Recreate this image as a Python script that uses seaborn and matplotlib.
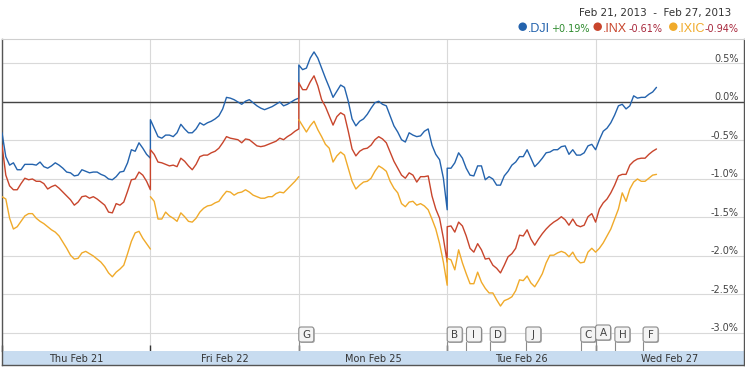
import numpy as np
import pandas as pd
import seaborn as sns
import matplotlib.pyplot as plt
from matplotlib import transforms
from matplotlib.patches import FancyBboxPatch, Ellipse

# % change, 10-minute bars 9:30-16:00 per session (Wed cut at 12:10)
days = ["Thu Feb 21", "Fri Feb 22", "Mon Feb 25", "Tue Feb 26", "Wed Feb 27"]

dji_thu = [-0.40, -0.71, -0.82, -0.79, -0.88, -0.88, -0.81, -0.81, -0.81, -0.82, -0.78, -0.84, -0.86, -0.83,
           -0.79, -0.82, -0.86, -0.91, -0.92, -0.96, -0.95, -0.88, -0.90, -0.92, -0.91, -0.91, -0.94, -0.96,
           -1.00, -1.01, -0.97, -0.91, -0.90, -0.79, -0.62, -0.64, -0.53, -0.60, -0.68, -0.73]
dji_fri = [-0.23, -0.34, -0.45, -0.47, -0.43, -0.43, -0.45, -0.40, -0.29, -0.35, -0.40, -0.40, -0.35, -0.27,
           -0.30, -0.27, -0.25, -0.22, -0.18, -0.09, 0.06, 0.05, 0.03, 0.00, -0.03, 0.01, 0.03, -0.01,
           -0.05, -0.08, -0.10, -0.08, -0.06, -0.03, 0.00, -0.05, -0.03, 0.00, 0.03, 0.05]
dji_mon = [0.48, 0.42, 0.44, 0.57, 0.65, 0.57, 0.44, 0.31, 0.19, 0.06, 0.14, 0.22, 0.19, 0.01,
           -0.22, -0.31, -0.25, -0.22, -0.16, -0.08, -0.01, 0.01, -0.03, -0.05, -0.18, -0.31, -0.39, -0.49,
           -0.52, -0.40, -0.43, -0.45, -0.44, -0.38, -0.35, -0.56, -0.68, -0.75, -0.99, -1.40]
dji_tue = [-0.86, -0.86, -0.79, -0.66, -0.73, -0.86, -0.95, -0.96, -0.83, -0.83, -1.01, -0.97, -1.00, -1.08,
           -1.08, -0.96, -0.90, -0.82, -0.78, -0.71, -0.71, -0.62, -0.73, -0.84, -0.79, -0.73, -0.66, -0.65,
           -0.62, -0.62, -0.58, -0.57, -0.68, -0.62, -0.69, -0.69, -0.66, -0.57, -0.55, -0.62]
dji_wed = [-0.62, -0.49, -0.38, -0.34, -0.27, -0.17, -0.05, -0.03, -0.09, -0.05, 0.08, 0.05, 0.06, 0.06,
           0.10, 0.13, 0.19]

inx_thu = [-0.56, -0.95, -1.09, -1.14, -1.14, -1.06, -0.99, -1.01, -1.00, -1.03, -1.03, -1.06, -1.13, -1.10,
           -1.08, -1.12, -1.17, -1.22, -1.27, -1.34, -1.30, -1.23, -1.22, -1.25, -1.23, -1.26, -1.30, -1.34,
           -1.43, -1.44, -1.32, -1.34, -1.30, -1.16, -1.01, -1.00, -0.91, -0.95, -1.03, -1.14]
inx_fri = [-0.62, -0.68, -0.78, -0.79, -0.81, -0.83, -0.82, -0.84, -0.73, -0.77, -0.83, -0.88, -0.81, -0.71,
           -0.69, -0.69, -0.66, -0.64, -0.60, -0.53, -0.45, -0.47, -0.48, -0.49, -0.53, -0.48, -0.49, -0.53,
           -0.57, -0.58, -0.57, -0.55, -0.53, -0.51, -0.47, -0.49, -0.45, -0.42, -0.38, -0.35]
inx_mon = [0.25, 0.16, 0.16, 0.26, 0.34, 0.21, 0.03, -0.06, -0.18, -0.30, -0.19, -0.14, -0.17, -0.38,
           -0.61, -0.70, -0.64, -0.61, -0.60, -0.56, -0.49, -0.45, -0.48, -0.53, -0.65, -0.77, -0.86, -0.95,
           -0.99, -0.92, -0.95, -1.04, -0.97, -0.97, -0.96, -1.22, -1.39, -1.51, -1.77, -2.08]
inx_tue = [-1.62, -1.61, -1.69, -1.56, -1.61, -1.74, -1.90, -1.95, -1.84, -1.92, -2.04, -2.03, -2.12, -2.16,
           -2.22, -2.12, -2.01, -1.97, -1.90, -1.73, -1.74, -1.66, -1.78, -1.86, -1.78, -1.71, -1.65, -1.60,
           -1.56, -1.53, -1.49, -1.53, -1.60, -1.52, -1.60, -1.62, -1.60, -1.49, -1.45, -1.56]
inx_wed = [-1.56, -1.39, -1.31, -1.26, -1.18, -1.08, -0.96, -0.94, -0.94, -0.82, -0.77, -0.74, -0.73, -0.73,
           -0.68, -0.64, -0.61]

ixic_thu = [-1.23, -1.26, -1.51, -1.65, -1.62, -1.55, -1.48, -1.45, -1.45, -1.51, -1.55, -1.58, -1.62, -1.66,
            -1.69, -1.74, -1.82, -1.90, -1.99, -2.04, -2.03, -1.96, -1.94, -1.97, -2.00, -2.04, -2.08, -2.14,
            -2.22, -2.27, -2.21, -2.17, -2.12, -1.97, -1.81, -1.70, -1.68, -1.77, -1.84, -1.91]
ixic_fri = [-1.23, -1.29, -1.52, -1.52, -1.43, -1.48, -1.51, -1.55, -1.44, -1.49, -1.55, -1.56, -1.51, -1.43,
            -1.38, -1.35, -1.34, -1.31, -1.29, -1.22, -1.16, -1.17, -1.21, -1.18, -1.17, -1.14, -1.17, -1.21,
            -1.23, -1.25, -1.25, -1.23, -1.23, -1.19, -1.17, -1.18, -1.13, -1.08, -1.03, -0.97]
ixic_mon = [-0.23, -0.31, -0.39, -0.31, -0.25, -0.36, -0.45, -0.55, -0.60, -0.78, -0.70, -0.65, -0.69, -0.86,
            -1.03, -1.13, -1.08, -1.04, -1.03, -0.99, -0.90, -0.83, -0.86, -0.90, -1.03, -1.12, -1.18, -1.32,
            -1.36, -1.30, -1.29, -1.34, -1.32, -1.35, -1.40, -1.52, -1.65, -1.84, -2.08, -2.38]
ixic_tue = [-2.03, -2.05, -2.18, -1.92, -2.09, -2.23, -2.36, -2.36, -2.21, -2.34, -2.42, -2.48, -2.48, -2.57,
            -2.65, -2.58, -2.56, -2.53, -2.45, -2.31, -2.32, -2.26, -2.35, -2.40, -2.32, -2.23, -2.09, -1.99,
            -1.99, -1.96, -1.94, -1.96, -2.01, -1.95, -2.04, -2.09, -2.08, -1.95, -1.90, -1.95]
ixic_wed = [-1.95, -1.90, -1.83, -1.74, -1.65, -1.52, -1.39, -1.18, -1.29, -1.13, -1.04, -1.00, -1.03, -1.03,
            -0.99, -0.95, -0.94]

symbols = [".DJI", ".INX", ".IXIC"]
changes = ["+0.19%", "-0.61%", "-0.94%"]
colors = {".DJI": "#2463ad", ".INX": "#c8452c", ".IXIC": "#f0aa2a"}
sessions = {
    ".DJI": [dji_thu, dji_fri, dji_mon, dji_tue, dji_wed],
    ".INX": [inx_thu, inx_fri, inx_mon, inx_tue, inx_wed],
    ".IXIC": [ixic_thu, ixic_fri, ixic_mon, ixic_tue, ixic_wed],
}
# IXIC line is broken between Thu/Fri and Fri/Mon
segment = {".DJI": [0, 0, 0, 0, 0], ".INX": [0, 0, 0, 0, 0], ".IXIC": [0, 1, 2, 2, 2]}

# news flags
flag_letters = ["G", "B", "I", "D", "J", "C", "A", "H", "F"]
flag_times = [2.0, 3.0, 3.13, 3.29, 3.53, 3.90, 4.0, 4.13, 4.32]
flag_raised = [0, 0, 0, 0, 0, 0, 1, 0, 0]

yticks = [0.5, 0.0, -0.5, -1.0, -1.5, -2.0, -2.5, -3.0]

rows = []
for sym in symbols:
    for d, vals in enumerate(sessions[sym]):
        t = d + np.arange(len(vals)) / 39
        for ti, v in zip(t, vals):
            rows.append((sym, "%s-%d" % (sym, segment[sym][d]), ti, v))
df = pd.DataFrame(rows, columns=["sym", "seg", "t", "pct"])

sns.set_style("white")
plt.rcParams["font.family"] = ["DejaVu Sans"]

W, H = 745, 367
fig = plt.figure(figsize=(W / 100, H / 100), dpi=100)
ax = fig.add_axes([2 / W, 16 / H, 742 / W, 312 / H])
band = fig.add_axes([2 / W, 2 / H, 742 / W, 14 / H])

sns.lineplot(data=df, x="t", y="pct", hue="sym", units="seg", estimator=None, sort=False,
             palette=colors, linewidth=1.0, legend=False, ax=ax, zorder=3)

ax.set_xlim(0, 5)
ax.set_ylim(-3.234, 0.818)
ax.set_xticks([0, 1, 2, 3, 4])
ax.set_xticklabels([])
ax.set_yticks(yticks)
ax.set_yticklabels([])
ax.set_xlabel("")
ax.set_ylabel("")
ax.grid(True, color="#d9d9d9", lw=0.8)
ax.set_axisbelow(True)
ax.tick_params(axis="x", direction="in", length=4, width=1, color="#333", bottom=True)
ax.tick_params(axis="y", length=0)
ax.axhline(0, color="#444", lw=1.0, zorder=2)
for s in ["left", "right"]:
    ax.spines[s].set_color("#555")
    ax.spines[s].set_linewidth(1.0)
ax.spines["top"].set_color("#cfcfcf")
ax.spines["top"].set_linewidth(0.8)
ax.spines["bottom"].set_visible(False)

# y labels inside the right edge, sitting on the grid lines
ylab = transforms.blended_transform_factory(ax.transAxes, ax.transData) + \
    transforms.ScaledTranslation(0, 1.5 / 100, fig.dpi_scale_trans)
for v in yticks:
    ax.text(0.993, v, "%.1f%%" % v, transform=ylab, ha="right", va="baseline",
            fontsize=7, color="#444")

# flags
fl = transforms.blended_transform_factory(ax.transData, ax.transAxes)
bw, bh = 15 / 148.4, 15 / 312
for letter, t, up in zip(flag_letters, flag_times, flag_raised):
    y0 = (9 + 2 * up) / 312
    ax.plot([t, t], [0, y0], transform=fl, color="#8a8a8a", lw=0.8, zorder=4)
    shadow = FancyBboxPatch((t + 1 / 148.4, y0 - 1 / 312), bw, bh, transform=fl,
                            boxstyle="round,pad=0,rounding_size=0.015", mutation_aspect=148.4 / 312,
                            fc="#b5b5b5", ec="none", zorder=4)
    box = FancyBboxPatch((t, y0), bw, bh, transform=fl,
                         boxstyle="round,pad=0,rounding_size=0.015", mutation_aspect=148.4 / 312,
                         fc="#f4f4f4", ec="#8a8a8a", lw=0.8, zorder=5)
    ax.add_patch(shadow)
    ax.add_patch(box)
    ax.text(t + bw / 2, y0 + bh / 2, letter, transform=fl, ha="center", va="center",
            fontsize=7.5, color="#444", zorder=6)

# day band
band.set_facecolor("#c8dcf0")
band.set_xlim(0, 5)
band.set_ylim(0, 1)
band.set_xticks([])
band.set_yticks([])
for s in ["left", "right", "bottom"]:
    band.spines[s].set_color("#555")
    band.spines[s].set_linewidth(1.0)
band.spines["top"].set_visible(False)
for d, name in enumerate(days):
    band.text(d + 0.5, 0.45, name, ha="center", va="center", fontsize=7, color="#333")

# header and legend
def fx(px):
    return px / W

def fy(py):
    return 1 - py / H

fig.text(fx(731), fy(13), "Feb 21, 2013  -  Feb 27, 2013", ha="right", va="center",
         fontsize=7.5, color="#333")
dot_x = [522.7, 597.7, 673.3]
sym_x = [527.7, 602.7, 677.7]
chg_x = [550.7, 629, 705]
chg_colors = ["#2e8b2e", "#a8283c", "#a8283c"]
for sym, chg, dx, sx, cx, cc in zip(symbols, changes, dot_x, sym_x, chg_x, chg_colors):
    fig.add_artist(Ellipse((fx(dx), fy(26.7)), 8.5 / W, 8.5 / H, transform=fig.transFigure,
                           fc=colors[sym], ec="none"))
    fig.text(fx(sx), fy(31.5), sym, ha="left", va="baseline", fontsize=9,
             family=["Liberation Sans"], color=colors[sym])
    fig.text(fx(cx), fy(31.5), chg, ha="left", va="baseline", fontsize=7, color=cc)

fig.savefig("out.png", dpi=100)
